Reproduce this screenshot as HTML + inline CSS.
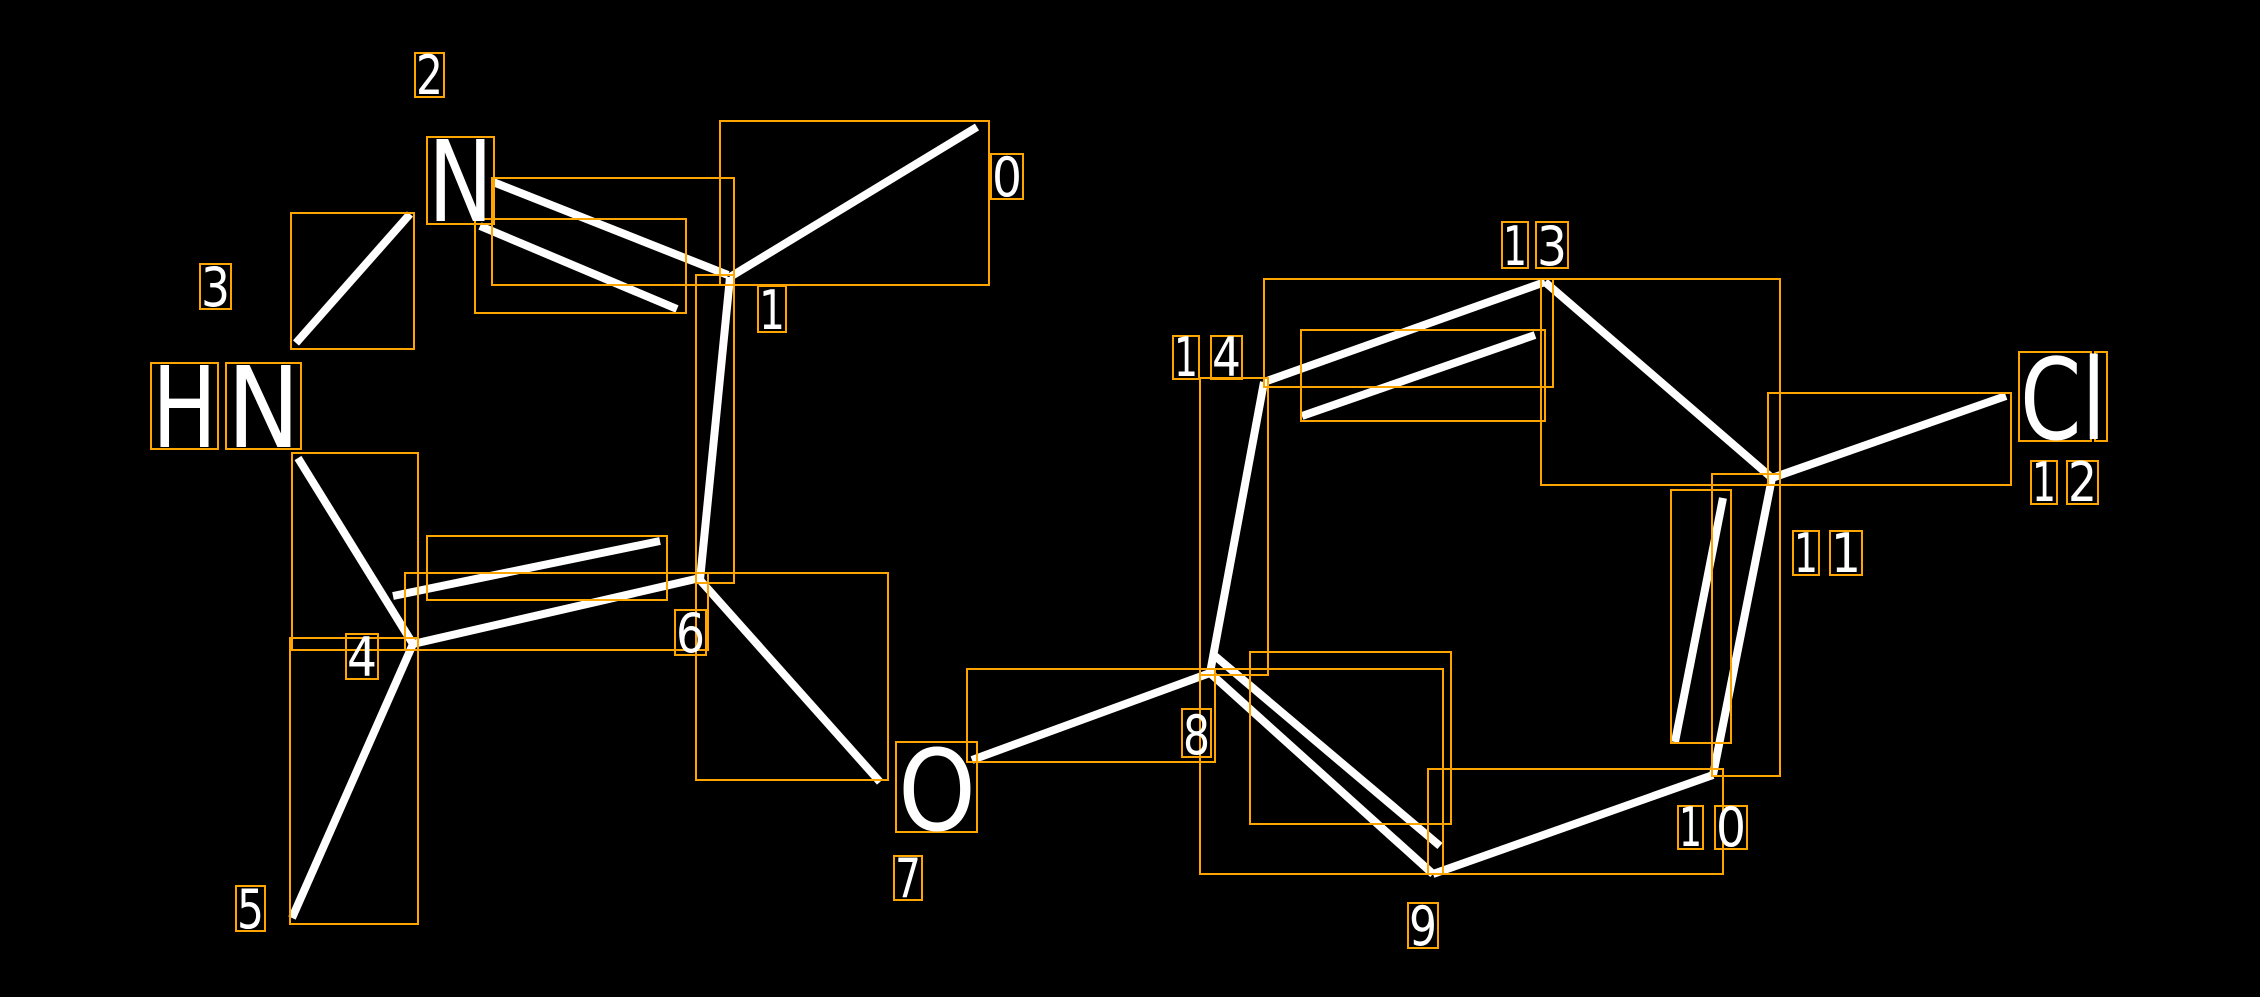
<!DOCTYPE html>
<html><head><style>
html,body{margin:0;padding:0;background:#000;}
svg{display:block;}
text{font-family:"DejaVu Sans","Liberation Sans",sans-serif;fill:#fff;}
</style></head><body>
<svg width="2260" height="997" viewBox="0 0 2260 997" xmlns="http://www.w3.org/2000/svg">
<rect width="2260" height="997" fill="#000"/>
<g stroke="#fff" stroke-width="8" stroke-linecap="butt">
<line x1="977" y1="127" x2="730" y2="277"/>
<line x1="493" y1="182" x2="728" y2="275"/>
<line x1="480" y1="226" x2="677" y2="309"/>
<line x1="296" y1="343" x2="410" y2="214"/>
<line x1="730" y1="277" x2="700" y2="580"/>
<line x1="413" y1="644" x2="700" y2="578"/>
<line x1="393" y1="596" x2="660" y2="541"/>
<line x1="298" y1="458" x2="413" y2="644"/>
<line x1="413" y1="644" x2="292" y2="918"/>
<line x1="700" y1="580" x2="880" y2="782"/>
<line x1="972" y1="760" x2="1210" y2="673"/>
<line x1="1210" y1="673" x2="1264" y2="382"/>
<line x1="1264" y1="382" x2="1545" y2="282"/>
<line x1="1302" y1="416" x2="1535" y2="335"/>
<line x1="1545" y1="282" x2="1772" y2="478"/>
<line x1="1772" y1="478" x2="2006" y2="396"/>
<line x1="1772" y1="478" x2="1713" y2="775"/>
<line x1="1675" y1="742" x2="1723" y2="498"/>
<line x1="1713" y1="775" x2="1433" y2="874"/>
<line x1="1433" y1="874" x2="1210" y2="673"/>
<line x1="1215" y1="656" x2="1440" y2="846"/>
</g>
<g fill="none" stroke="#FFA500" stroke-width="2">
<rect x="720" y="121" width="269" height="164"/>
<rect x="492" y="178" width="242" height="107"/>
<rect x="475" y="219" width="211" height="94"/>
<rect x="291" y="213" width="123" height="136"/>
<rect x="292" y="453" width="126" height="197"/>
<rect x="696" y="275" width="38" height="308"/>
<rect x="405" y="573" width="303" height="77"/>
<rect x="427" y="536" width="240" height="64"/>
<rect x="290" y="638" width="128" height="286"/>
<rect x="696" y="573" width="192" height="207"/>
<rect x="967" y="669" width="248" height="93"/>
<rect x="1250" y="652" width="201" height="172"/>
<rect x="1200" y="378" width="68" height="297"/>
<rect x="1200" y="669" width="243" height="205"/>
<rect x="1428" y="769" width="295" height="105"/>
<rect x="1264" y="279" width="289" height="108"/>
<rect x="1301" y="330" width="244" height="91"/>
<rect x="1541" y="279" width="239" height="206"/>
<rect x="1768" y="393" width="243" height="92"/>
<rect x="1712" y="474" width="68" height="302"/>
<rect x="1671" y="490" width="60" height="253"/>
<!-- label boxes -->
<rect x="427" y="137" width="67" height="87"/>
<rect x="151" y="363" width="67" height="86"/>
<rect x="226" y="363" width="75" height="86"/>
<rect x="896" y="742" width="81" height="90"/>
<rect x="2019" y="352" width="72" height="89"/>
<rect x="2095" y="352" width="12" height="89"/>
<rect x="991" y="154" width="32" height="45"/>
<rect x="758" y="286" width="28" height="46"/>
<rect x="415" y="53" width="29" height="44"/>
<rect x="200" y="264" width="31" height="45"/>
<rect x="346" y="634" width="32" height="45"/>
<rect x="236" y="886" width="29" height="45"/>
<rect x="675" y="610" width="31" height="45"/>
<rect x="894" y="856" width="28" height="44"/>
<rect x="1182" y="709" width="29" height="48"/>
<rect x="1408" y="903" width="30" height="45"/>
<rect x="1173" y="336" width="26" height="43"/>
<rect x="1211" y="336" width="31" height="43"/>
<rect x="1502" y="222" width="26" height="46"/>
<rect x="1536" y="222" width="32" height="46"/>
<rect x="2031" y="461" width="26" height="43"/>
<rect x="2067" y="461" width="31" height="43"/>
<rect x="1793" y="531" width="26" height="44"/>
<rect x="1830" y="531" width="32" height="44"/>
<rect x="1678" y="806" width="25" height="43"/>
<rect x="1715" y="806" width="32" height="43"/>
</g>
<g font-size="112">
<text x="428" y="221" textLength="65" lengthAdjust="spacingAndGlyphs">N</text>
<text x="152" y="447" textLength="65" lengthAdjust="spacingAndGlyphs">H</text>
<text x="227" y="447" textLength="73" lengthAdjust="spacingAndGlyphs">N</text>
<text x="898" y="830" textLength="78" lengthAdjust="spacingAndGlyphs">O</text>
<text x="2020" y="439" textLength="86" lengthAdjust="spacingAndGlyphs">Cl</text>
</g>
<g font-size="54">
<text x="992" y="196" textLength="30" lengthAdjust="spacingAndGlyphs">0</text>
<text x="759" y="329" textLength="26" lengthAdjust="spacingAndGlyphs">1</text>
<text x="416" y="94" textLength="27" lengthAdjust="spacingAndGlyphs">2</text>
<text x="201" y="306" textLength="29" lengthAdjust="spacingAndGlyphs">3</text>
<text x="347" y="676" textLength="30" lengthAdjust="spacingAndGlyphs">4</text>
<text x="237" y="928" textLength="27" lengthAdjust="spacingAndGlyphs">5</text>
<text x="676" y="652" textLength="29" lengthAdjust="spacingAndGlyphs">6</text>
<text x="895" y="897" textLength="26" lengthAdjust="spacingAndGlyphs">7</text>
<text x="1183" y="754" textLength="27" lengthAdjust="spacingAndGlyphs">8</text>
<text x="1409" y="945" textLength="28" lengthAdjust="spacingAndGlyphs">9</text>
<text x="1174" y="376" textLength="24" lengthAdjust="spacingAndGlyphs">1</text>
<text x="1212" y="376" textLength="29" lengthAdjust="spacingAndGlyphs">4</text>
<text x="1503" y="265" textLength="24" lengthAdjust="spacingAndGlyphs">1</text>
<text x="1537" y="265" textLength="30" lengthAdjust="spacingAndGlyphs">3</text>
<text x="2032" y="501" textLength="24" lengthAdjust="spacingAndGlyphs">1</text>
<text x="2068" y="501" textLength="29" lengthAdjust="spacingAndGlyphs">2</text>
<text x="1794" y="572" textLength="24" lengthAdjust="spacingAndGlyphs">1</text>
<text x="1831" y="572" textLength="30" lengthAdjust="spacingAndGlyphs">1</text>
<text x="1679" y="846" textLength="23" lengthAdjust="spacingAndGlyphs">1</text>
<text x="1716" y="846" textLength="30" lengthAdjust="spacingAndGlyphs">0</text>
</g>
</svg>
</body></html>
